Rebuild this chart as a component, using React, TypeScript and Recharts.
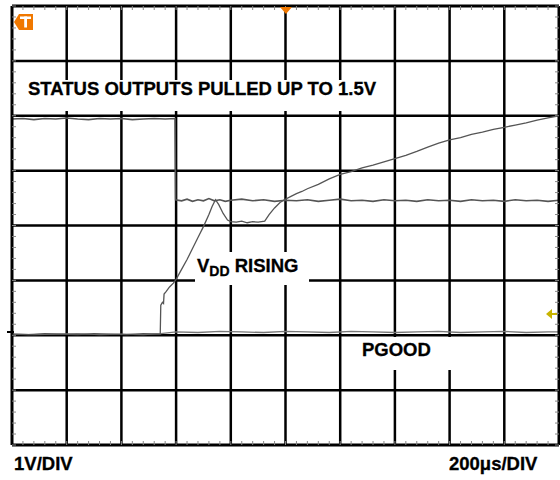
import React from "react";
import { LineChart, Line, XAxis, YAxis, ReferenceLine } from "recharts";

// scope screen: 10 horizontal divisions (200us/div), 8 vertical divisions (1V/div)
const GRID_X = [1, 2, 3, 4, 5, 6, 7, 8, 9];
const GRID_Y = [1, 2, 3, 4, 5, 6, 7];
const MINOR_X = Array.from({ length: 51 }, (_, i) => i / 5);
const MINOR_Y = Array.from({ length: 41 }, (_, i) => i / 5);

// [time in div, level in div]
const STATUS: [number, number][] = [
  [0, 5.94], [0.2, 5.95], [0.4, 5.93], [0.6, 5.95], [0.8, 5.94], [1.0, 5.96],
  [1.2, 5.94], [1.4, 5.93], [1.6, 5.95], [1.8, 5.94], [2.0, 5.95], [2.2, 5.93],
  [2.4, 5.94], [2.6, 5.95], [2.8, 5.94], [2.98, 5.95], [2.99, 4.47], [3.1, 4.45],
  [3.2, 4.48], [3.3, 4.44], [3.4, 4.47], [3.5, 4.45], [3.6, 4.49], [3.7, 4.45],
  [3.8, 4.47], [3.9, 4.44], [4.0, 4.46], [4.2, 4.48], [4.4, 4.45], [4.6, 4.47],
  [4.8, 4.44], [5.0, 4.46], [5.2, 4.45], [5.4, 4.47], [5.6, 4.44], [5.8, 4.46],
  [6.0, 4.48], [6.2, 4.45], [6.4, 4.46], [6.6, 4.44], [6.8, 4.47], [7.0, 4.45],
  [7.2, 4.46], [7.4, 4.44], [7.6, 4.47], [7.8, 4.45], [8.0, 4.46], [8.2, 4.44],
  [8.4, 4.47], [8.6, 4.45], [8.8, 4.46], [9.0, 4.44], [9.2, 4.47], [9.4, 4.45],
  [9.6, 4.46], [9.8, 4.44], [10, 4.46],
];

const VDD: [number, number][] = [
  [0, 2.02], [0.3, 2.01], [0.6, 2.03], [0.9, 2.02], [1.2, 2.01], [1.5, 2.03],
  [1.8, 2.02], [2.1, 2.01], [2.4, 2.03], [2.71, 2.02], [2.72, 2.55], [2.75, 2.6],
  [2.77, 2.58], [2.78, 2.75], [2.82, 2.8], [2.88, 2.88], [2.95, 2.95], [3.0, 3.02],
  [3.1, 3.2], [3.2, 3.38], [3.3, 3.58], [3.4, 3.78], [3.5, 3.98], [3.6, 4.2],
  [3.66, 4.35], [3.72, 4.47], [3.78, 4.38], [3.86, 4.22], [3.94, 4.1], [4.0, 4.07],
  [4.1, 4.06], [4.2, 4.08], [4.3, 4.05], [4.4, 4.07], [4.5, 4.06], [4.62, 4.08],
  [4.7, 4.2], [4.8, 4.32], [4.9, 4.42], [4.98, 4.47], [5.1, 4.53], [5.2, 4.58],
  [5.3, 4.62], [5.4, 4.67], [5.6, 4.75], [5.8, 4.85], [6.0, 4.93], [6.2, 4.98],
  [6.4, 5.05], [6.6, 5.1], [6.8, 5.16], [7.0, 5.22], [7.2, 5.28], [7.4, 5.35],
  [7.6, 5.43], [7.8, 5.5], [8.0, 5.56], [8.2, 5.6], [8.4, 5.66], [8.6, 5.7],
  [8.8, 5.75], [9.0, 5.79], [9.2, 5.83], [9.4, 5.87], [9.6, 5.92], [9.8, 5.96],
  [10, 6.0],
];

const PGOOD: [number, number][] = [
  [0, 2.02], [0.4, 2.01], [0.8, 2.02], [1.2, 2.03], [1.6, 2.01], [2.0, 2.02],
  [2.4, 2.01], [2.72, 2.03], [3.0, 2.06], [3.4, 2.05], [3.8, 2.07], [4.2, 2.06],
  [4.6, 2.05], [5.0, 2.07], [5.4, 2.06], [5.8, 2.05], [6.2, 2.07], [6.6, 2.06],
  [7.0, 2.05], [7.4, 2.06], [7.8, 2.07], [8.2, 2.05], [8.6, 2.06], [9.0, 2.07],
  [9.4, 2.05], [9.8, 2.06], [10, 2.06],
];

const toRows = (pts: [number, number][]) => pts.map(([t, v]) => ({ t, v }));

const FONT = '"Liberation Sans", Arial, sans-serif';
const TRACE = "#555";
const frame = { stroke: "#000", strokeWidth: 3 };
const minorTick = { stroke: "#888", strokeWidth: 1 };
const noLabel = () => "";

export default function App() {
  return (
    <div
      style={{
        position: "absolute",
        left: 0,
        top: 0,
        width: 560,
        height: 480,
        background: "#fff",
        fontFamily: FONT,
      }}
    >
      <LineChart width={560} height={480} margin={{ top: 6, right: 1, bottom: 35, left: 12 }}>
        <XAxis xAxisId="b" type="number" dataKey="t" domain={[0, 10]} allowDataOverflow
          orientation="bottom" mirror height={1} ticks={MINOR_X} interval={0}
          tickSize={4} tickFormatter={noLabel} axisLine={frame} tickLine={minorTick} />
        <XAxis xAxisId="t" type="number" dataKey="t" domain={[0, 10]} allowDataOverflow
          orientation="top" mirror height={1} ticks={MINOR_X} interval={0}
          tickSize={4} tickFormatter={noLabel} axisLine={frame} tickLine={minorTick} />
        <YAxis yAxisId="l" type="number" domain={[0, 8]} allowDataOverflow
          orientation="left" mirror width={1} ticks={MINOR_Y} interval={0}
          tickSize={4} tickFormatter={noLabel} axisLine={frame} tickLine={minorTick} />
        <YAxis yAxisId="r" type="number" domain={[0, 8]} allowDataOverflow
          orientation="right" mirror width={1} ticks={MINOR_Y} interval={0}
          tickSize={4} tickFormatter={noLabel} axisLine={frame} tickLine={minorTick} />
        {GRID_X.map((g) => (
          <ReferenceLine key={"x" + g} x={g} xAxisId="b" yAxisId="l" stroke="#000" strokeWidth={2.5} />
        ))}
        {GRID_Y.map((g) => (
          <ReferenceLine key={"y" + g} y={g} xAxisId="b" yAxisId="l" stroke="#000" strokeWidth={2.5} />
        ))}
        <Line xAxisId="b" yAxisId="l" data={toRows(PGOOD)} dataKey="v" stroke="#777"
          strokeWidth={1.3} dot={false} isAnimationActive={false} />
        <Line xAxisId="b" yAxisId="l" data={toRows(STATUS)} dataKey="v" stroke={TRACE}
          strokeWidth={1.6} dot={false} isAnimationActive={false} />
        <Line xAxisId="b" yAxisId="l" data={toRows(VDD)} dataKey="v" stroke={TRACE}
          strokeWidth={1.3} dot={false} isAnimationActive={false} />
      </LineChart>

      <svg width={560} height={480} style={{ position: "absolute", left: 0, top: 0 }}>
        {/* label backgrounds break the graticule */}
        <rect x={22} y={80} width={363} height={31} fill="#fff" />
        <rect x={195} y={252} width={114} height={33} fill="#fff" />
        <rect x={346} y={337} width={105} height={33} fill="#fff" />
        <g fontFamily={FONT} fontWeight="bold" fontSize={18.5} fill="#000" stroke="#000" strokeWidth={0.3}>
          <text x={28} y={95}>STATUS OUTPUTS PULLED UP TO 1.5V</text>
          <text x={197} y={272}>
            V<tspan fontSize={14} dy={4}>DD</tspan>
            <tspan dy={-4}> RISING</tspan>
          </text>
          <text x={362} y={356}>PGOOD</text>
          <text x={14} y={470}>1V/DIV</text>
          <text x={449} y={470}>200μs/DIV</text>
        </g>
        {/* trigger / ground markers */}
        <polygon points="14,22 19,14 33,14 33,30 19,30" fill="#f07800" />
        <rect x={20} y={16.5} width={11} height={2.5} fill="#fff" />
        <rect x={24.2} y={16.5} width={2.8} height={11} fill="#fff" />
        <polygon points="280,7 292,7 286,14" fill="#f07800" />
        <polygon points="546,314 552,309 552,319" fill="#c8b400" />
        <line x1={551} y1={314} x2={557} y2={314} stroke="#c8b400" strokeWidth={2} />
        <line x1={7} y1={332} x2={14} y2={332} stroke="#000" strokeWidth={2} />
      </svg>
    </div>
  );
}
